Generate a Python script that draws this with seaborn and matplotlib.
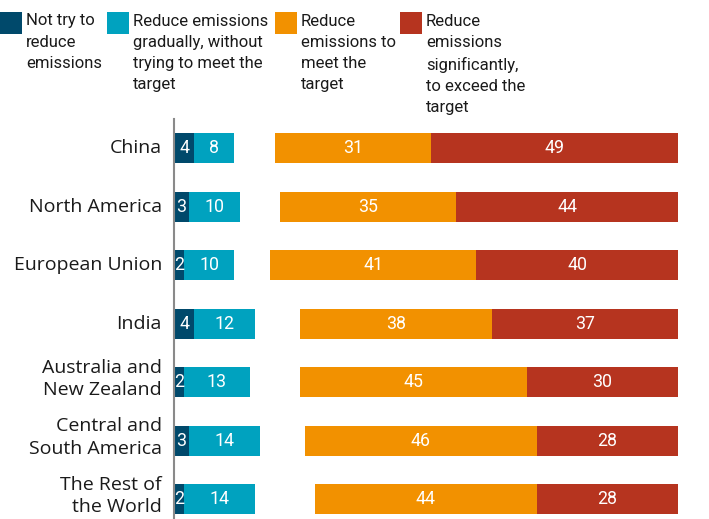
import matplotlib
matplotlib.use("Agg")
import matplotlib.pyplot as plt
from matplotlib.patches import Rectangle
import seaborn as sns
import pandas as pd
import numpy as np

# ── Data ──────────────────────────────────────────────────────────────────────
regions = ["China", "North America", "European Union", "India",
           "Australia and\nNew Zealand", "Central and\nSouth America",
           "The Rest of\nthe World"]
not_try = [4, 3, 2, 4, 2, 3, 2]
gradual = [8, 10, 10, 12, 13, 14, 14]
meet = [31, 35, 41, 38, 45, 46, 44]
exceed = [49, 44, 40, 37, 30, 28, 28]

legend_labels = ["Not try to\nreduce\nemissions",
                 "Reduce emissions\ngradually, without\ntrying to meet the\ntarget",
                 "Reduce\nemissions to\nmeet the\ntarget",
                 "Reduce\nemissions\nsignificantly,\nto exceed the\ntarget"]

# ── Style ─────────────────────────────────────────────────────────────────────
C_NAVY, C_TEAL, C_ORANGE, C_RED = "#00496b", "#00a2bf", "#f29100", "#b6341f"
colors = [C_NAVY, C_TEAL, C_ORANGE, C_RED]
TXT = "#1a1a1a"
LABEL_FONT = ["Open Sans", "DejaVu Sans"]
LEGEND_FONT = ["Roboto", "DejaVu Sans"]

sns.set_theme(style="white")
plt.rcParams["font.family"] = ["Roboto", "DejaVu Sans"]
plt.rcParams["font.size"] = 12.5

df = pd.DataFrame({"region": regions, "not_try": not_try, "gradual": gradual,
                   "meet": meet, "exceed": exceed})
df["left_total"] = df["not_try"] + df["gradual"]
df["meet_end"] = 100 - df["exceed"]             # orange bar ends here
df["gap_end"] = 100 - df["exceed"] - df["meet"]  # right group starts here

W, H = 709, 519
fig = plt.figure(figsize=(W / 100, H / 100), dpi=100)
ax = fig.add_axes([174 / W, 0, 504 / W, 400 / H])

# layered bars: each later bar paints over the start of the previous one
kw = dict(data=df, y="region", orient="h", width=0.51, ax=ax,
          saturation=1, linewidth=0)
sns.barplot(x=[100] * len(df), color=C_RED, **kw)
sns.barplot(x="meet_end", color=C_ORANGE, **kw)
sns.barplot(x="gap_end", color="white", **kw)
sns.barplot(x="left_total", color=C_TEAL, **kw)
sns.barplot(x="not_try", color=C_NAVY, **kw)

# value labels
for i, r in df.iterrows():
    segs = [(0, r["not_try"]), (r["not_try"], r["gradual"]),
            (r["gap_end"], r["meet"]), (r["meet_end"], r["exceed"])]
    for start, val in segs:
        ax.text(start + val / 2, i, f"{val}", ha="center", va="center",
                color="white", fontsize=12.8)

ax.set_xlim(0, 100)
ax.set_ylim(6.34, -0.5)
ax.set_xlabel("")
ax.set_ylabel("")
ax.set_xticks([])
ax.set_yticks(range(len(regions)), [""] * len(regions))
ax.tick_params(axis="y", length=0)

# region labels drawn by hand so two-line ones can sit a bit higher
ytr = ax.get_yaxis_transform()
for i, name in enumerate(regions):
    nudge = 0.05 if "\n" in name else 0.0
    ax.text(-12 / 504, i - nudge, name, transform=ytr, ha="right",
            va="center", ma="right", color=TXT, fontsize=14,
            linespacing=1.32, family=LABEL_FONT, clip_on=False)

for s in ["top", "right", "bottom"]:
    ax.spines[s].set_visible(False)
ax.spines["left"].set_color("#8a8a8a")
ax.spines["left"].set_linewidth(1.5)
ax.spines["left"].set_zorder(5)

# ── Legend (manual, across the top) ───────────────────────────────────────────
leg_x = [0, 107, 275, 400]
for x0, col, lab in zip(leg_x, colors, legend_labels):
    fig.add_artist(Rectangle((x0 / W, 1 - 34 / H), 22 / W, 22 / H,
                             transform=fig.transFigure, color=col, lw=0))
    fig.text((x0 + 26) / W, 1 - 13.5 / H, lab, ha="left", va="top",
             color=TXT, fontsize=12, linespacing=1.52, family=LEGEND_FONT)

fig.savefig("out.png", dpi=100)
